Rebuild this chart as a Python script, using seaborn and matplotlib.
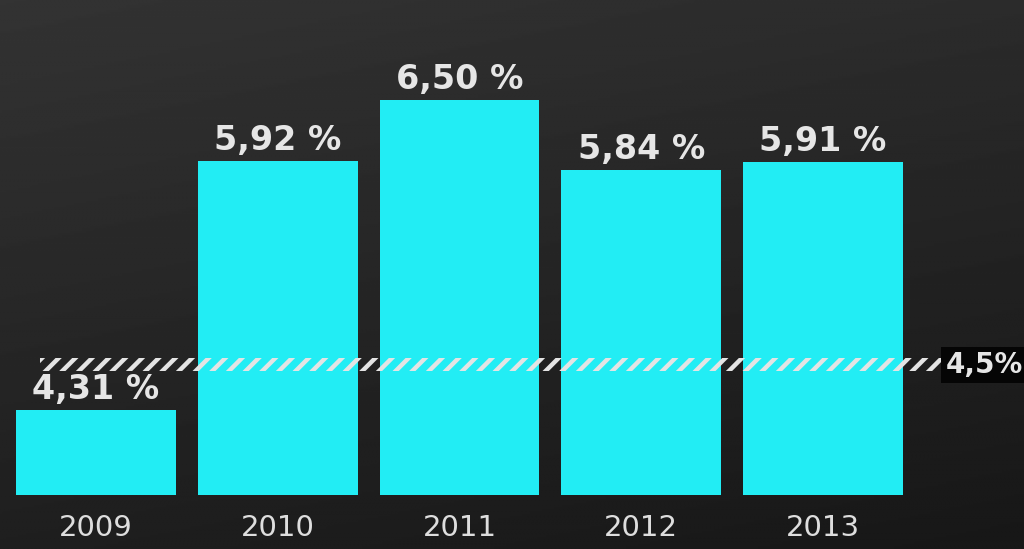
import numpy as np
import pandas as pd
import matplotlib
matplotlib.use("Agg")
import matplotlib.pyplot as plt
import seaborn as sns
from matplotlib.patches import Rectangle

years = ["2009", "2010", "2011", "2012", "2013"]
values = [4.31, 5.92, 6.50, 5.84, 5.91]
target = 4.5
target_label = "4,5%"

sns.set_theme(style="dark")
plt.rcParams['font.family'] = ['DejaVu Sans']
plt.rcParams['hatch.linewidth'] = 3.2
plt.rcParams['hatch.color'] = "#e4e4e4"

W, H = 10.24, 5.49
fig = plt.figure(figsize=(W, H), dpi=100)
fig.patch.set_facecolor("#222222")

# background gradient
bg = fig.add_axes([0, 0, 1, 1], zorder=0)
grad = np.linspace(0, 1, 256)
gx, gy = np.meshgrid(grad, grad)
img = 0.20 - 0.08 * gy - 0.03 * gx
bg.imshow(img, cmap="gray", vmin=0, vmax=1, aspect="auto", extent=[0, 1, 0, 1])
bg.set_axis_off()

ax = fig.add_axes([0, 54 / 549, 1, 495 / 549], zorder=1)
ax.patch.set_alpha(0)

# compressed (power) value scale, like the original infographic
B, P = 4.127, 0.6
fwd = lambda y: np.sign(y - B) * np.abs(y - B) ** P
inv = lambda z: B + np.sign(z) * np.abs(z) ** (1 / P)
ax.set_yscale("function", functions=(fwd, inv))

df = pd.DataFrame({"year": years, "value": values})
sns.barplot(data=df, x="year", y="value", color="#22edf4", saturation=1,
            width=0.88, ax=ax, zorder=2, linewidth=0, edgecolor="none")

ax.set_ylim(B, inv(fwd(max(values)) * 495 / 395))
ax.set_xlim(-0.528, 5.106)

labels = [f"{v:.2f}".replace(".", ",") + " %" for v in values]
ax.bar_label(ax.containers[0], labels=labels, padding=3, fontsize=24,
             fontweight="bold", color="#e6e6e6")

# hatched target band (about 13 px tall around the target value)
ypix = ax.transData.transform((0, target))[1]
lo = ax.transData.inverted().transform((0, ypix - 6))[1]
hi = ax.transData.inverted().transform((0, ypix + 7))[1]
ax.add_patch(Rectangle((-0.31, lo), 5.12, hi - lo,
                       facecolor="none", edgecolor="#e4e4e4", hatch="//",
                       linewidth=0, zorder=3))
ax.text(5.1, target, target_label, ha="right", va="center", fontsize=20,
        fontweight="bold", color="#e6e6e6", zorder=4,
        bbox=dict(boxstyle="square,pad=0.15", facecolor="#050505", edgecolor="none"))

ax.set_xlabel("")
ax.set_ylabel("")
ax.set_yticks([])
ax.minorticks_off()
ax.tick_params(axis="x", length=0, pad=14, labelsize=21, labelcolor="#dedede")
for s in ax.spines.values():
    s.set_visible(False)
ax.grid(False)

fig.savefig("out.png", dpi=100, facecolor=fig.get_facecolor())
